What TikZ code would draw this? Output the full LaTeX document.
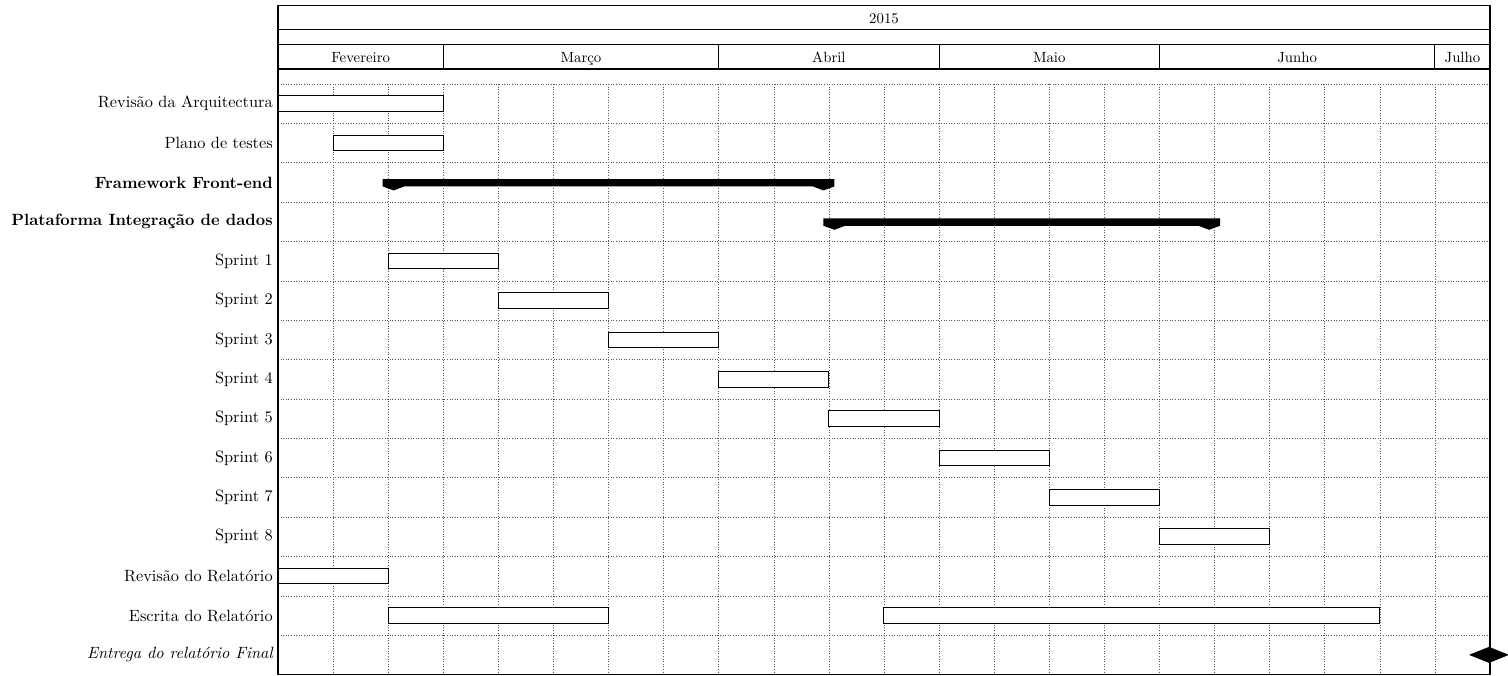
\documentclass[tikz,border=0pt]{standalone}
\begin{document}
\begin{tikzpicture}[x=1pt,y=-1pt,
  frame/.style={line width=1.1pt},
  gridline/.style={black!65,dotted,line width=0.6pt},
  barbox/.style={draw,fill=white,line width=1pt},
  lab/.style={anchor=east,scale=1.63,inner sep=0pt},
  hdr/.style={anchor=base,scale=1.48,inner sep=0pt}]
\useasboundingbox (0,0) rectangle (1508,676);
\def\cw{55.09}
\def\rh{39.37}
\newcommand\gbar[3]{\draw[barbox] ({278+\cw*#2},{84+\rh*(#1+0.5)-7.8}) rectangle ({278+\cw*#3},{84+\rh*(#1+0.5)+7.8});}
\newcommand\ggroup[3]{%
  \pgfmathsetmacro\xl{278+\cw*#2}\pgfmathsetmacro\xr{278+\cw*#3}\pgfmathsetmacro\yc{84+\rh*(#1+0.5)}%
  \fill ({\xl-5.5},{\yc-3.4}) -- ({\xr+5.5},{\yc-3.4}) -- ({\xr+5.5},{\yc+4}) -- ({\xr-5.5},{\yc+8}) -- ({\xr-16},{\yc+4})
    -- ({\xl+16},{\yc+4}) -- ({\xl+5.5},{\yc+8}) -- ({\xl-5.5},{\yc+4}) -- cycle;}
% grid
\foreach \k in {0,...,14} \draw[gridline] (278,{84+\rh*\k}) -- (1490,{84+\rh*\k});
\foreach \i in {1,...,21} \draw[gridline] ({278+\cw*\i},84) -- ({278+\cw*\i},674.5);
% header
\draw[frame] (278,5.5) rectangle (1490,29.3);
\draw[frame] (278,29.3) rectangle (1490,44.3);
\draw[frame] (278,44.3) rectangle (1490,69);
\draw[frame] (278,69) rectangle (1490,674.5);
\foreach \i in {3,8,12,16,21} \draw[frame] ({278+\cw*\i},44.3) -- ({278+\cw*\i},69);
\node[hdr] (year) at (884,23.3) {2015};
\node[hdr] (fev) at ({278+\cw*1.5},62.3) {Fevereiro};
\node[hdr] (mar) at ({278+\cw*5.5},62.3) {Março};
\node[hdr] (abr) at ({278+\cw*10},62.3) {Abril};
\node[hdr] (mai) at ({278+\cw*14},62.3) {Maio};
\node[hdr] (jun) at ({278+\cw*18.5},62.3) {Junho};
\node[hdr] (jul) at ({278+\cw*21.5},62.3) {Julho};
% labels
\newcommand\rowy[1]{84+\rh*(#1+0.5)}
\node[lab] (l0) at (273,{\rowy{0}}) {Revisão da Arquitectura};
\node[lab] (l1) at (273,{\rowy{1}}) {Plano de testes};
\node[lab] (l2) at (273,{\rowy{2}}) {\bfseries Framework Front-end};
\node[lab] (l3) at (273,{\rowy{3}}) {\bfseries Plataforma Integração de dados};
\node[lab] (l4) at (273,{\rowy{4}}) {Sprint 1};
\node[lab] (l5) at (273,{\rowy{5}}) {Sprint 2};
\node[lab] (l6) at (273,{\rowy{6}}) {Sprint 3};
\node[lab] (l7) at (273,{\rowy{7}}) {Sprint 4};
\node[lab] (l8) at (273,{\rowy{8}}) {Sprint 5};
\node[lab] (l9) at (273,{\rowy{9}}) {Sprint 6};
\node[lab] (l10) at (273,{\rowy{10}}) {Sprint 7};
\node[lab] (l11) at (273,{\rowy{11}}) {Sprint 8};
\node[lab] (l12) at (273,{\rowy{12}}) {Revisão do Relatório};
\node[lab] (l13) at (273,{\rowy{13}}) {Escrita do Relatório};
\node[lab] (l14) at (273,{\rowy{14}}) {\itshape Entrega do relatório Final};
% bars
\gbar{0}{0}{3}
\gbar{1}{1}{3}
\ggroup{2}{2}{10}
\ggroup{3}{10}{17}
\gbar{4}{2}{4}
\gbar{5}{4}{6}
\gbar{6}{6}{8}
\gbar{7}{8}{10}
\gbar{8}{10}{12}
\gbar{9}{12}{14}
\gbar{10}{14}{16}
\gbar{11}{16}{18}
\gbar{12}{0}{2}
\gbar{13}{2}{6}
\gbar{13}{11}{20}
% milestone
\fill (1469,{\rowy{14}}) -- (1489,{\rowy{14}-8}) -- (1509,{\rowy{14}}) -- (1489,{\rowy{14}+8}) -- cycle;
\end{tikzpicture}
\end{document}
